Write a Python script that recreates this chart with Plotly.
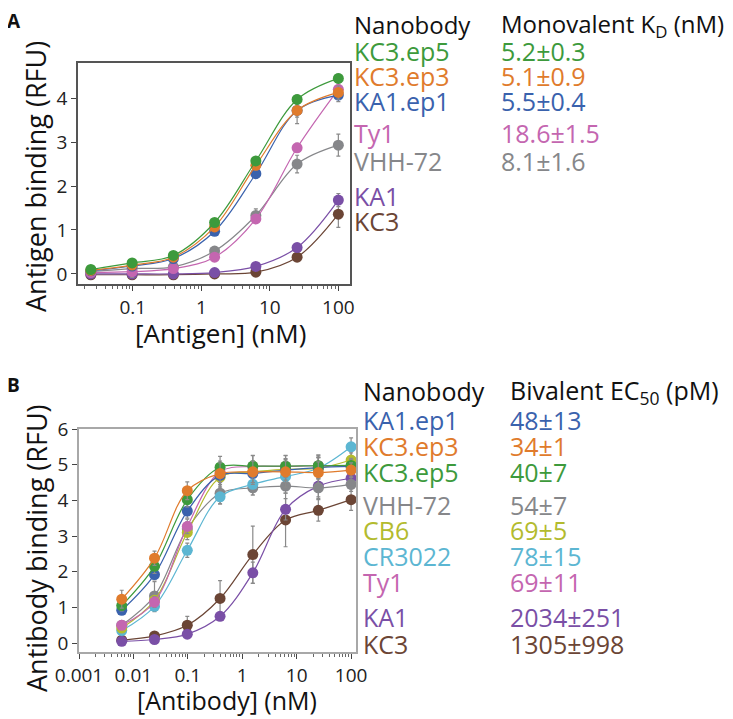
import plotly.graph_objects as go

# ---------------- Data ----------------
conc_A = [0.0244, 0.0977, 0.391, 1.5625, 6.25, 25, 100]
names_A = ["KC3.ep5", "KC3.ep3", "KA1.ep1", "Ty1", "VHH-72", "KA1", "KC3"]
kd_A = ["5.2±0.3", "5.1±0.9", "5.5±0.4", "18.6±1.5", "8.1±1.6", "", ""]
vals_A = {
    "KC3.ep5": [0.10, 0.25, 0.42, 1.17, 2.57, 3.97, 4.45],
    "KC3.ep3": [0.08, 0.20, 0.38, 1.07, 2.47, 3.72, 4.13],
    "KA1.ep1": [0.07, 0.18, 0.35, 0.97, 2.28, 3.72, 4.07],
    "Ty1":     [0.03, 0.05, 0.12, 0.38, 1.25, 2.87, 4.20],
    "VHH-72":  [0.05, 0.12, 0.16, 0.52, 1.33, 2.50, 2.93],
    "KA1":     [0.00, 0.00, 0.00, 0.03, 0.17, 0.60, 1.68],
    "KC3":     [-0.02, -0.02, -0.02, 0.00, 0.04, 0.38, 1.36],
}
err_A = {
    "KC3.ep5": [0.02, 0.05, 0.05, 0.05, 0.08, 0.10, 0.10],
    "KC3.ep3": [0.02, 0.05, 0.05, 0.05, 0.10, 0.30, 0.15],
    "KA1.ep1": [0.02, 0.05, 0.05, 0.05, 0.10, 0.15, 0.15],
    "Ty1":     [0.02, 0.03, 0.03, 0.05, 0.10, 0.10, 0.15],
    "VHH-72":  [0.02, 0.20, 0.05, 0.08, 0.15, 0.20, 0.25],
    "KA1":     [0.01, 0.01, 0.01, 0.02, 0.05, 0.08, 0.15],
    "KC3":     [0.01, 0.01, 0.01, 0.02, 0.03, 0.08, 0.30],
}

conc_B = [0.0061, 0.0244, 0.0977, 0.391, 1.5625, 6.25, 25, 100]
names_B = ["KA1.ep1", "KC3.ep3", "KC3.ep5", "VHH-72", "CB6", "CR3022", "Ty1", "KA1", "KC3"]
ec50_B = ["48±13", "34±1", "40±7", "54±7", "69±5", "78±15", "69±11", "2034±251", "1305±998"]
vals_B = {
    "KA1.ep1": [0.92, 1.92, 3.70, 4.70, 4.75, 4.85, 4.92, 4.95],
    "KC3.ep3": [1.23, 2.38, 4.27, 4.75, 4.80, 4.80, 4.78, 4.85],
    "KC3.ep5": [1.05, 2.15, 4.02, 4.93, 4.96, 4.96, 4.97, 4.98],
    "VHH-72":  [0.50, 1.32, 3.20, 4.20, 4.35, 4.40, 4.35, 4.45],
    "CB6":     [0.42, 1.20, 3.10, 4.65, 4.80, 4.87, 4.90, 5.13],
    "CR3022":  [0.35, 1.03, 2.60, 4.10, 4.45, 4.67, 4.90, 5.50],
    "Ty1":     [0.50, 1.15, 3.27, 4.80, 4.95, 4.95, 4.97, 4.95],
    "KA1":     [0.05, 0.10, 0.25, 0.75, 1.97, 3.75, 4.40, 4.62],
    "KC3":     [0.08, 0.20, 0.50, 1.25, 2.48, 3.45, 3.72, 4.02],
}
err_B = {
    "KA1.ep1": [0.10, 0.15, 0.20, 0.30, 0.30, 0.30, 0.30, 0.20],
    "KC3.ep3": [0.25, 0.20, 0.25, 0.30, 0.30, 0.30, 0.30, 0.20],
    "KC3.ep5": [0.15, 0.20, 0.20, 0.30, 0.30, 0.30, 0.30, 0.20],
    "VHH-72":  [0.10, 0.40, 0.20, 0.30, 0.20, 0.20, 0.30, 0.20],
    "CB6":     [0.10, 0.15, 0.20, 0.30, 0.30, 0.30, 0.30, 0.20],
    "CR3022":  [0.10, 0.15, 0.20, 0.20, 0.30, 0.30, 0.30, 0.25],
    "Ty1":     [0.10, 0.15, 0.20, 0.30, 0.30, 0.30, 0.30, 0.20],
    "KA1":     [0.02, 0.03, 0.05, 0.10, 0.30, 0.30, 0.30, 0.20],
    "KC3":     [0.05, 0.05, 0.25, 0.50, 0.80, 0.75, 0.30, 0.30],
}

colors = {
    "KC3.ep5": "#3d9a3c",
    "KC3.ep3": "#e07b2c",
    "KA1.ep1": "#3a62ad",
    "Ty1": "#c466b0",
    "VHH-72": "#86878a",
    "KA1": "#7a4fa6",
    "KC3": "#6b4535",
    "CB6": "#b3bb2e",
    "CR3022": "#5cb6d2",
}

FONT = "Open Sans"
fig = go.Figure()

draw_A = ["KC3", "KA1", "VHH-72", "Ty1", "KA1.ep1", "KC3.ep3", "KC3.ep5"]
for n in draw_A:
    fig.add_trace(go.Scatter(
        x=conc_A, y=vals_A[n], mode="lines+markers", line_shape="spline",
        line=dict(color=colors[n], width=1.2),
        marker=dict(color=colors[n], size=11),
        error_y=dict(type="data", array=err_A[n], color="#8a8a8a", thickness=1.2, width=2),
        xaxis="x", yaxis="y", showlegend=False))

draw_B = ["KC3", "KA1", "VHH-72", "CR3022", "CB6", "Ty1", "KA1.ep1", "KC3.ep5", "KC3.ep3"]
for n in draw_B:
    fig.add_trace(go.Scatter(
        x=conc_B, y=vals_B[n], mode="lines+markers", line_shape="spline",
        line=dict(color=colors[n], width=1.2),
        marker=dict(color=colors[n], size=11),
        error_y=dict(type="data", array=err_B[n], color="#8a8a8a", thickness=1.2, width=2),
        xaxis="x2", yaxis="y2", showlegend=False))

W, H = 733, 719
OFF = 8  # page body margin: screen px -> figure px

def fx(px):
    return (px - OFF) / W

def fy(py):
    return 1 - (py - OFF) / H

tickfont = dict(family=FONT, size=19, color="#222")

def xax(domain, rng, anchor, linecolor):
    return dict(type="log", domain=domain, range=rng, anchor=anchor, automargin=False,
                showline=True, linecolor=linecolor, linewidth=1.5, mirror=True,
                ticks="outside", ticklen=5, tickcolor="#444", dtick=1,
                exponentformat="none", showgrid=False, zeroline=False,
                tickfont=tickfont,
                minor=dict(ticks="outside", ticklen=3, tickcolor="#666", showgrid=False))

def yax(domain, rng, anchor, linecolor):
    return dict(domain=domain, range=rng, anchor=anchor, automargin=False,
                showline=True, linecolor=linecolor, linewidth=1.5, mirror=True,
                ticks="outside", ticklen=5, tickcolor="#444", dtick=1,
                showgrid=False, zeroline=False, tickfont=tickfont)

fig.update_layout(
    width=W, height=H, margin=dict(l=0, r=0, t=0, b=0, autoexpand=False),
    plot_bgcolor="white", paper_bgcolor="white",
    xaxis=xax([fx(78), fx(350)], [-1.80, 2.17], "y", "#555"),
    yaxis=yax([fy(284), fy(63)], [-0.23, 4.8], "x", "#555"),
    xaxis2=xax([fx(79), fx(356)], [-3.0, 2.09], "y2", "#a8a8a8"),
    yaxis2=yax([fy(652), fy(429)], [-0.25, 6.0], "x2", "#a8a8a8"),
)

ann = []
def txt(x, y, s, size=25, color="#111", anchor="left", angle=0, bold=False):
    if bold:
        s = "<b>" + s + "</b>"
    ann.append(dict(x=fx(x), y=fy(y), xref="paper", yref="paper", text=s,
                    showarrow=False, xanchor=anchor, yanchor="middle", textangle=angle,
                    borderpad=0,
                    font=dict(family=FONT, size=size, color=color)))

# panel labels
txt(6, 21, "A", size=19, bold=True)
txt(6, 385, "B", size=19, bold=True)
# axis titles
txt(35, 177, "Antigen binding (RFU)", size=27, anchor="center", angle=-90)
txt(220, 333, "[Antigen] (nM)", size=26, anchor="center")
txt(36, 548, "Antibody binding (RFU)", size=27, anchor="center", angle=-90)
txt(227, 700, "[Antibody] (nM)", size=25, anchor="center")

# legend A
txt(353, 25, "Nanobody", size=24)
txt(500, 25, "Monovalent K<sub>D</sub> (nM)", size=24)
rows_A = [51, 76, 101, 133, 161, 196, 221]
for n, k, y in zip(names_A, kd_A, rows_A):
    txt(353, y, n, color=colors[n])
    if k:
        txt(500, y, k, color=colors[n])

# legend B
txt(362, 391, "Nanobody")
txt(509, 391, "Bivalent EC<sub>50</sub> (pM)")
rows_B = [420, 446, 472, 505, 530, 556, 582, 617, 644]
for n, k, y in zip(names_B, ec50_B, rows_B):
    txt(362, y, n, color=colors[n])
    txt(509, y, k, color=colors[n])

fig.update_layout(annotations=ann)
fig.write_html("out.html")
